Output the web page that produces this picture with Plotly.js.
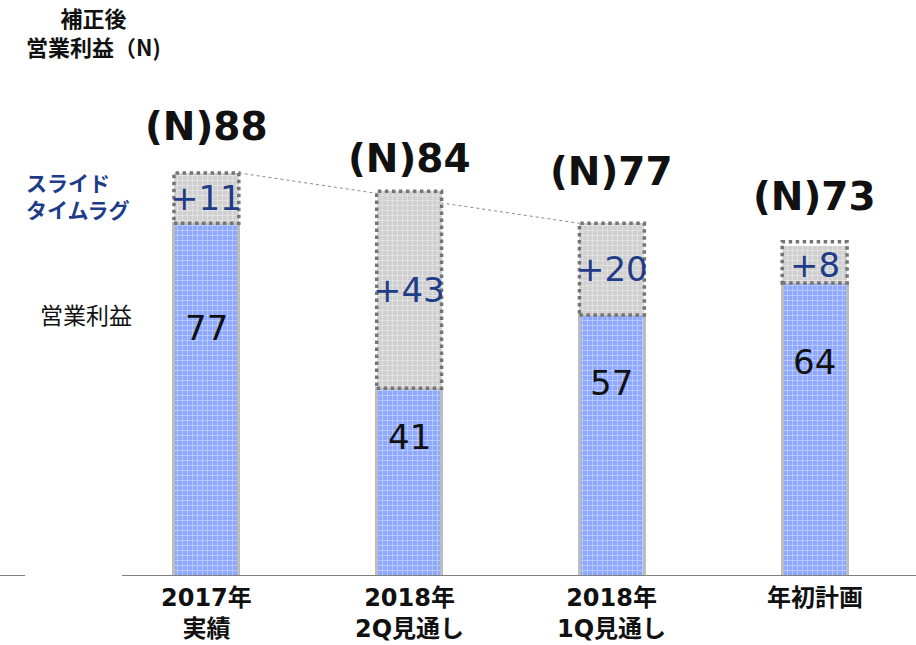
<!DOCTYPE html>
<html><head><meta charset="utf-8">
<script src="https://cdn.plot.ly/plotly-3.0.1.min.js"></script>
<style>body{margin:0;background:#fff}#c{width:916px;height:645px}</style>
</head><body><div id="c"></div>
<script>
const categories = ['2017年<br>実績', '2018年<br>2Q見通し', '2018年<br>1Q見通し', '年初計画'];
const operatingProfit = [77, 41, 57, 64];
const slideTimeLag = [11, 43, 20, 8];
const totals = [88, 84, 77, 73];

const idx = categories.map((_, i) => i);
const W = 0.32;
const FONT = 'DejaVu Sans, Noto Sans CJK JP, sans-serif';
const JP = 'Noto Sans CJK JP, sans-serif';
const PH = 458, PW = 811, L = 105, BASE = 576;
const px = v => (v - L) / PW;
const py = v => (BASE - v) / PH;

const traces = [
  {
    type: 'bar', x: idx, y: operatingProfit, width: W,
    marker: {color: '#93adff', line: {color: '#bdbdbd', width: 3},
      pattern: {shape: '+', fgcolor: '#c9d6ff', bgcolor: '#8ea8ff', size: 5, solidity: 0.25}},
    hoverinfo: 'skip'
  },
  {
    type: 'bar', x: idx, y: slideTimeLag, width: W,
    marker: {color: '#d6d6d6', line: {width: 0},
      pattern: {shape: '+', fgcolor: '#e8e8e8', bgcolor: '#d0d0d0', size: 5, solidity: 0.25}},
    hoverinfo: 'skip'
  }
];

const shapes = [];
idx.forEach(i => {
  shapes.push({type: 'rect', xref: 'x', yref: 'y', x0: i - W/2, x1: i + W/2,
    y0: operatingProfit[i], y1: totals[i], line: {color: '#747474', width: 3.5, dash: 'dot'}});
});
shapes.push({type: 'line', xref: 'x', yref: 'y', x0: 0 + W/2, y0: totals[0], x1: 2 - W/2, y1: totals[2],
  line: {color: '#8a8a8a', width: 1, dash: 'dot'}, layer: 'below'});
shapes.push({type: 'line', xref: 'paper', yref: 'y', x0: px(122), x1: 1, y0: 0, y1: 0, line: {color: '#808080', width: 2}});
shapes.push({type: 'line', xref: 'paper', yref: 'y', x0: px(0), x1: px(25), y0: 0, y1: 0, line: {color: '#808080', width: 2}});

const topShift = [46, 33, 52, 45];
const lowShift = [-105, -49, -68, -79];
const annotations = [];
idx.forEach(i => {
  annotations.push({x: i, y: totals[i], xref: 'x', yref: 'y', text: '<b>(N)' + totals[i] + '</b>',
    showarrow: false, yanchor: 'middle', yshift: topShift[i], font: {family: FONT, size: 39, color: '#111'}});
  annotations.push({x: i, y: operatingProfit[i] + slideTimeLag[i] / 2, xref: 'x', yref: 'y', text: '+' + slideTimeLag[i],
    showarrow: false, yanchor: 'middle', font: {family: FONT, size: 34, color: '#1f3c88'}});
  annotations.push({x: i, y: operatingProfit[i], xref: 'x', yref: 'y', text: String(operatingProfit[i]),
    showarrow: false, yanchor: 'middle', yshift: lowShift[i], font: {family: FONT, size: 34, color: '#111'}});
  annotations.push({x: i, xref: 'x', yref: 'paper', y: py(582), yanchor: 'top',
    text: '<b>' + categories[i] + '</b>', showarrow: false, font: {family: FONT, size: 24, color: '#111'}});
});
annotations.push({xref: 'paper', yref: 'paper', x: px(24), y: py(196), xanchor: 'left', yanchor: 'middle', align: 'left',
  text: '<b>スライド<br>タイムラグ</b>', showarrow: false, font: {family: JP, size: 21, color: '#1f3c88'}});
annotations.push({xref: 'paper', yref: 'paper', x: px(134), y: py(314), xanchor: 'right', yanchor: 'middle',
  text: '営業利益', showarrow: false, font: {family: JP, size: 23, color: '#111'}});
annotations.push({xref: 'paper', yref: 'paper', x: px(93), y: py(32), xanchor: 'center', yanchor: 'middle',
  text: '<b>補正後<br>営業利益（N)</b>', showarrow: false, font: {family: JP, size: 22, color: '#111'}});

const layout = {
  width: 916, height: 645,
  margin: {l: L, r: 0, t: 118, b: 69},
  barmode: 'stack', showlegend: false,
  paper_bgcolor: '#fff', plot_bgcolor: '#fff',
  xaxis: {type: 'linear', range: [-0.5, 3.5], showticklabels: false,
    showgrid: false, zeroline: false, showline: false, ticks: ''},
  yaxis: {range: [0, 100], visible: false, showgrid: false, zeroline: false},
  shapes: shapes, annotations: annotations
};
Plotly.newPlot('c', traces, layout, {displayModeBar: false, staticPlot: true});
</script></body></html>
